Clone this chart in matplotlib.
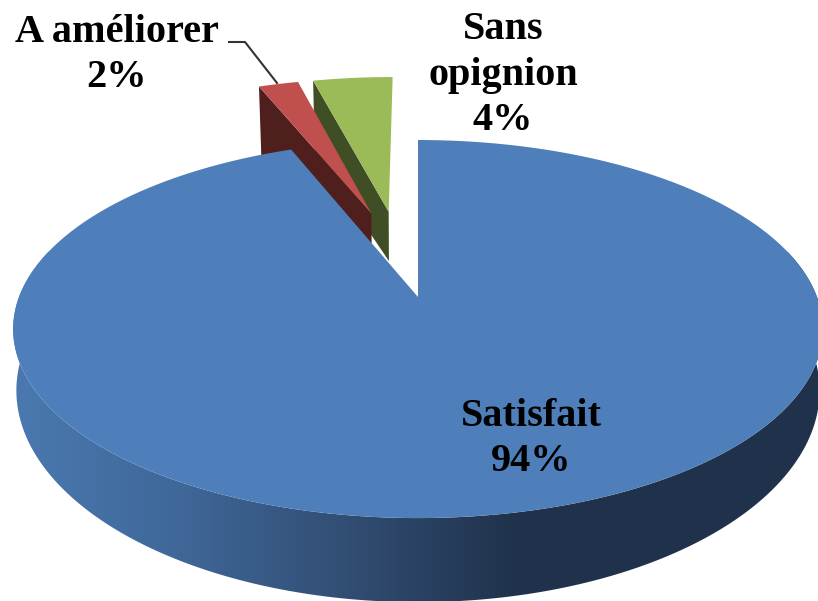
import numpy as np
import matplotlib
matplotlib.use("Agg")
import matplotlib.pyplot as plt
from matplotlib.colors import LinearSegmentedColormap
from matplotlib.patches import Polygon

# Data
labels = ["Satisfait", "A améliorer", "Sans\nopignion"]
values = [94, 2, 4]
top_colors = ["#4e7fba", "#c0504d", "#9bbb59"]
cut_colors = [None, "#4f1f1e", "#404e25"]

# Pie geometry, in pixels of the 818x601 picture
CX, CY = 418, 297
A, B = 399, 183.6
PERSP = 0.1695
DEPTH = 58
EXPLODE = 0.255


def project(u, v, h=0.0):
    """Disc coordinates to picture pixels, h=1 is the bottom face"""
    s = 1 / (1 + PERSP * v)
    x = CX + A * u * s * (1 - 0.008 * h)
    y = CY - B * v * s + h * DEPTH * s ** 2
    return x, y


def direction(angle):
    """Clockwise from the top, in degrees"""
    rad = np.radians(angle)
    return np.sin(rad), np.cos(rad)


# Slice angles
total = sum(values)
ends = np.cumsum(values) / total * 360
starts = np.concatenate([[0], ends[:-1]])
mids = (starts + ends) / 2
base_u, base_v = direction(mids[0])
offsets = []
for mid in mids:
    du, dv = direction(mid)
    offsets.append((EXPLODE * (du - base_u), EXPLODE * (dv - base_v)))

fig = plt.figure(figsize=(8.18, 6.01), dpi=100)
ax = fig.add_axes([0, 0, 1, 1])


def draw_top(i, zorder):
    ou, ov = offsets[i]
    angles = np.linspace(starts[i], ends[i], 400)
    du, dv = direction(angles)
    u = np.concatenate([[ou], ou + du])
    v = np.concatenate([[ov], ov + dv])
    x, y = project(u, v)
    ax.fill(x, y, color=top_colors[i], lw=0, zorder=zorder)


def draw_cut(i, zorder):
    # flat face on the left edge of a small slice, deeper at the outer end
    ou, ov = offsets[i]
    du, dv = direction(starts[i])
    u = np.array([ou, ou + du, ou + du, ou])
    v = np.array([ov, ov + dv, ov + dv, ov])
    h = np.array([0, 0, 1.9, 1])
    x, y = project(u, v, h)
    ax.fill(x, y, color=cut_colors[i], lw=0, zorder=zorder)


def draw_side(i, zorder):
    # rim of the big slice, front part only, shaded from left to right
    cmap = LinearSegmentedColormap.from_list(
        "rim", [(0, "#4a79b0"), (0.3, "#40699b"), (0.6, "#34527a"), (1, "#20324b")])
    ou, ov = offsets[i]
    angles = np.linspace(75, 285, 500)
    du, dv = direction(angles)
    x0, y0 = project(ou + du, ov + dv, 0)
    x1, y1 = project(ou + du, ov + dv, 1)
    outline = np.column_stack([np.concatenate([x0, x1[::-1]]),
                               np.concatenate([y0, y1[::-1]])])
    clip = Polygon(outline, closed=True, transform=ax.transData, fc="none", ec="none")
    ax.add_patch(clip)
    shade = np.clip((np.arange(0, 818) - 13) / 507, 0, 1)[np.newaxis, :]
    im = ax.imshow(shade, cmap=cmap, extent=(0, 818, 601, 0), aspect="auto",
                   vmin=0, vmax=1, zorder=zorder)
    im.set_clip_path(clip)


draw_cut(2, 1)
draw_top(2, 2)
draw_cut(1, 3)
draw_top(1, 4)
draw_side(0, 5)
draw_top(0, 6)

# Leader line of the red slice
ax.plot([229, 245, 277], [42, 42, 83], color="#333333", lw=1.5, zorder=7)

# Labels
font = dict(family="Liberation Serif", fontweight="bold", fontsize=29,
            ha="center", va="center", color="black", linespacing=1.3, zorder=8)
ax.text(117, 55, f"{labels[1]}\n{values[1]}%", **font)
ax.text(503, 75, f"{labels[2]}\n{values[2]}%", **font)
ax.text(531, 439, f"{labels[0]}\n{values[0]}%", **font)

ax.set_xlim(0, 818)
ax.set_ylim(601, 0)
ax.axis("off")

plt.savefig("out.png", dpi=100)
